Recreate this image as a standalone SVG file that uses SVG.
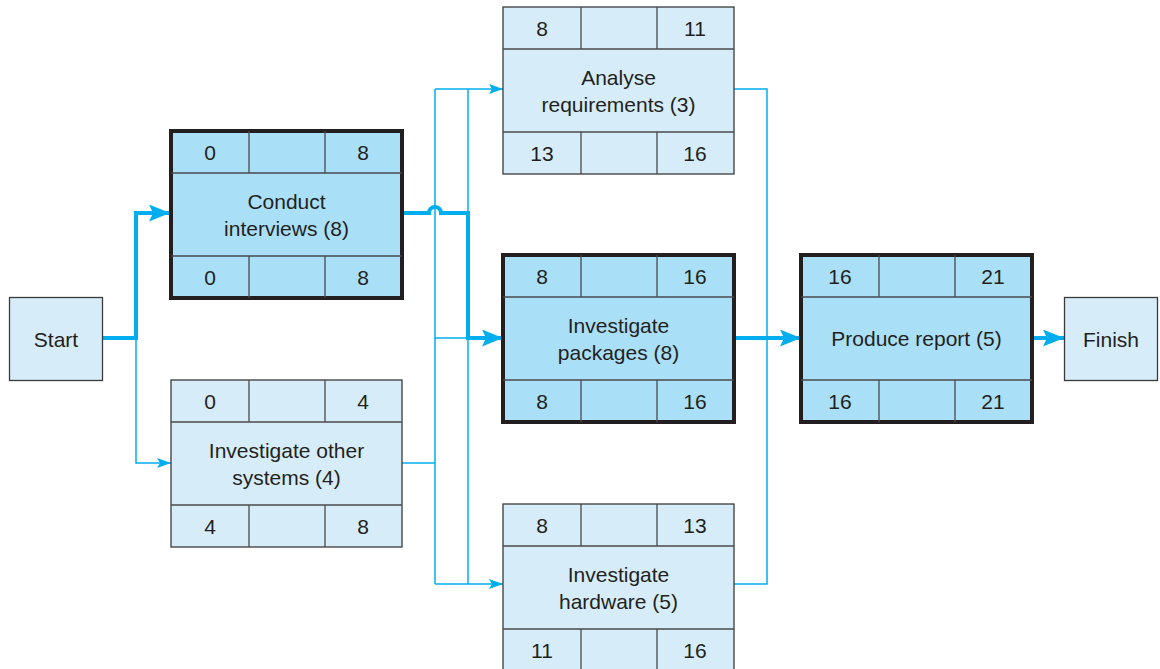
<svg xmlns="http://www.w3.org/2000/svg" width="1160" height="669" viewBox="0 0 1160 669">
<style>
text{font-family:"Liberation Sans",Arial,sans-serif;font-size:21px;fill:#231f20;text-anchor:middle;dominant-baseline:central}
.box{fill:#d6edf9;stroke:#3a3a3a;stroke-width:1.3}
.crit{fill:#aadff8;stroke:#231f20;stroke-width:4}
.div{stroke:#4a4a4a;stroke-width:1.3;fill:none}
.thin{fill:none;stroke:#00aeef;stroke-width:1.5}
.thick{fill:none;stroke:#00aeef;stroke-width:4}
</style>
<defs>
<marker id="ab" markerUnits="userSpaceOnUse" markerWidth="21" markerHeight="17" refX="21" refY="8.5" orient="auto"><path d="M0,0 L21,8.5 L0,17 L4,8.5 z" fill="#00aeef"/></marker>
<marker id="as" markerUnits="userSpaceOnUse" markerWidth="14" markerHeight="10" refX="14" refY="5" orient="auto"><path d="M0,0 L14,5 L0,10 L3,5 z" fill="#00aeef"/></marker>
<g id="grid"><path class="div" d="M0,42 H231 M0,125 H231 M78,0 V42 M154,0 V42 M78,125 V167 M154,125 V167"/></g>
</defs>
<g id="connectors">
<path class="thin" d="M136,338 V463 H171" marker-end="url(#as)"/>
<path class="thin" d="M435,89 V584"/>
<path class="thin" d="M468,89 V584"/>
<path class="thin" d="M435,89 H503" marker-end="url(#as)"/>
<path class="thin" d="M435,584 H503" marker-end="url(#as)"/>
<path class="thin" d="M435,338 H468"/>
<path class="thin" d="M402,463 H435"/>
<path class="thin" d="M734,89 H767 V584 H734"/>
<path class="thick" d="M103,338 H136 V213 H170" marker-end="url(#ab)"/>
<path class="thick" d="M402,213 H429 A6,6 0 0 1 441,213 H468 V338 H503" marker-end="url(#ab)"/>
<path class="thick" d="M734,338 H801" marker-end="url(#ab)"/>
<path class="thick" d="M1032,338 H1064" marker-end="url(#ab)"/>
</g>
<g id="start"><rect class="box" x="9.5" y="297.5" width="93" height="83"/><text x="56" y="339">Start</text></g>
<g id="finish"><rect class="box" x="1064.5" y="297.5" width="93" height="83"/><text x="1111" y="339">Finish</text></g>
<g id="conduct" transform="translate(171,131)"><rect class="crit" x="0" y="0" width="231" height="167"/><use href="#grid"/>
<text x="39" y="21">0</text><text x="192" y="21">8</text><text x="115.5" y="70">Conduct</text><text x="115.5" y="97">interviews (8)</text><text x="39" y="146">0</text><text x="192" y="146">8</text></g>
<g id="other" transform="translate(171,380)"><rect class="box" x="0" y="0" width="231" height="167"/><use href="#grid"/>
<text x="39" y="21">0</text><text x="192" y="21">4</text><text x="115.5" y="70">Investigate other</text><text x="115.5" y="97">systems (4)</text><text x="39" y="146">4</text><text x="192" y="146">8</text></g>
<g id="analyse" transform="translate(503,7)"><rect class="box" x="0" y="0" width="231" height="167"/><use href="#grid"/>
<text x="39" y="21">8</text><text x="192" y="21">11</text><text x="115.5" y="70">Analyse</text><text x="115.5" y="97">requirements (3)</text><text x="39" y="146">13</text><text x="192" y="146">16</text></g>
<g id="packages" transform="translate(503,255)"><rect class="crit" x="0" y="0" width="231" height="167"/><use href="#grid"/>
<text x="39" y="21">8</text><text x="192" y="21">16</text><text x="115.5" y="70">Investigate</text><text x="115.5" y="97">packages (8)</text><text x="39" y="146">8</text><text x="192" y="146">16</text></g>
<g id="hardware" transform="translate(503,504)"><rect class="box" x="0" y="0" width="231" height="167"/><use href="#grid"/>
<text x="39" y="21">8</text><text x="192" y="21">13</text><text x="115.5" y="70">Investigate</text><text x="115.5" y="97">hardware (5)</text><text x="39" y="146">11</text><text x="192" y="146">16</text></g>
<g id="report" transform="translate(801,255)"><rect class="crit" x="0" y="0" width="231" height="167"/><use href="#grid"/>
<text x="39" y="21">16</text><text x="192" y="21">21</text><text x="115.5" y="83.5">Produce report (5)</text><text x="39" y="146">16</text><text x="192" y="146">21</text></g>
</svg>
